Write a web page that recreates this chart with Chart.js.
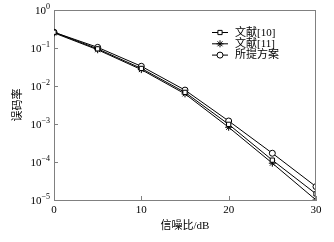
<!DOCTYPE html>
<html><head><meta charset="utf-8">
<script src="https://cdn.jsdelivr.net/npm/chart.js@4"></script>
<style>html,body{margin:0;padding:0;background:#fff}#w{width:334px;height:242px}</style>
</head><body><div id="w"><canvas id="c"></canvas></div>
<script>
const snr = [0, 5, 10, 15, 20, 25, 30];
const ref10 = [0.26, 0.095, 0.029, 0.0068, 0.00098, 0.000112, 0.0000145];
const ref11 = [0.25, 0.090, 0.027, 0.0062, 0.00082, 0.000093, 0.0000100];
const proposed = [0.26, 0.104, 0.033, 0.0078, 0.0012, 0.00017, 0.0000225];
const seriesNames = ['文献[10]', '文献[11]', '所提方案'];
const yTicks = [1, 0.1, 0.01, 0.001, 0.0001, 0.00001];
const xTicks = [0, 10, 20, 30];
const xTitle = '信噪比/dB';
const yTitle = '误码率';

const FONT = "'Liberation Serif','Noto Sans CJK SC',serif";
const AXC = '#808080';

function mk(label, data, style, r) {
  return {
    label, data: snr.map((x, i) => ({x, y: data[i]})),
    borderColor: '#000', borderWidth: 1, backgroundColor: '#fff',
    pointStyle: style, pointRadius: r, pointBorderColor: '#000',
    pointBackgroundColor: '#fff', pointBorderWidth: 1, tension: 0
  };
}

const frame = {
  id: 'frame',
  afterDatasetsDraw(chart) {
    const {ctx, chartArea: a, scales: {x, y}} = chart;
    ctx.save();
    ctx.strokeStyle = AXC; ctx.lineWidth = 1;
    ctx.beginPath();
    ctx.moveTo(a.left, a.top + 0.5); ctx.lineTo(a.right, a.top + 0.5);
    ctx.moveTo(a.right - 0.5, a.top); ctx.lineTo(a.right - 0.5, a.bottom);
    xTicks.forEach(v => { const px = Math.round(x.getPixelForValue(v)) + 0.5; ctx.moveTo(px, a.bottom); ctx.lineTo(px, a.bottom - 4); });
    yTicks.forEach(v => { const py = Math.round(y.getPixelForValue(v)) + 0.5; ctx.moveTo(a.left, py); ctx.lineTo(a.left + 4, py); });
    ctx.stroke();
    // y tick labels: base "10" with superscript exponent
    ctx.fillStyle = '#000';
    yTicks.forEach(v => {
      const py = y.getPixelForValue(v);
      const e = String(Math.round(Math.log10(v))).replace('-', '−');
      ctx.font = "8px " + FONT;
      const ew = ctx.measureText(e).width;
      ctx.textAlign = 'left'; ctx.textBaseline = 'alphabetic';
      const right = a.left - 4;
      ctx.fillText(e, right - ew, py - 1);
      ctx.font = "11px " + FONT;
      ctx.textAlign = 'right';
      ctx.fillText('10', right - ew, py + 4);
    });
    // legend
    const ds = chart.data.datasets;
    ctx.font = "11px " + FONT;
    ctx.textBaseline = 'middle';
    ctx.textAlign = 'left';
    ds.forEach((d, i) => {
      const ly = 32.5 + 11.3 * i;
      ctx.strokeStyle = '#000'; ctx.lineWidth = 1;
      ctx.beginPath(); ctx.moveTo(212, ly); ctx.lineTo(228, ly); ctx.stroke();
      ctx.fillStyle = '#fff';
      Chart.helpers.drawPoint(ctx, {pointStyle: d.pointStyle, radius: d.pointRadius, borderWidth: 1}, 220, ly);
      ctx.fillStyle = '#000';
      ctx.fillText(d.label, 235, ly + 0.5);
    });
    ctx.restore();
  }
};

new Chart(document.getElementById('c'), {
  type: 'line',
  data: {datasets: [
    mk(seriesNames[0], ref10, 'rect', 3),
    mk(seriesNames[1], ref11, 'star', 3.5),
    mk(seriesNames[2], proposed, 'circle', 3)
  ]},
  options: {
    responsive: true, maintainAspectRatio: false, animation: false,
    layout: {padding: {top: 10, right: 18, left: 0, bottom: 0}},
    plugins: {legend: {display: false}, tooltip: {enabled: false}},
    scales: {
      x: {
        type: 'linear', min: 0, max: 30,
        afterBuildTicks: s => { s.ticks = xTicks.map(v => ({value: v})); },
        afterFit: s => { s.height = 42; },
        grid: {display: false, drawTicks: false},
        border: {display: true, color: AXC, width: 1},
        ticks: {color: '#000', padding: 4, font: {family: FONT, size: 11}, maxRotation: 0},
        title: {display: true, text: xTitle, color: '#000', font: {family: FONT, size: 11}, padding: {top: 2, bottom: 9}}
      },
      y: {
        type: 'logarithmic', min: 0.00001, max: 1,
        afterBuildTicks: s => { s.ticks = yTicks.map(v => ({value: v})); },
        afterFit: s => { s.width = 54; },
        grid: {display: false, drawTicks: false},
        border: {display: true, color: AXC, width: 1},
        ticks: {display: false},
        title: {display: true, text: yTitle, color: '#000', font: {family: FONT, size: 11}, padding: {top: 12, bottom: 0}}
      }
    }
  },
  plugins: [frame]
});
</script></body></html>
